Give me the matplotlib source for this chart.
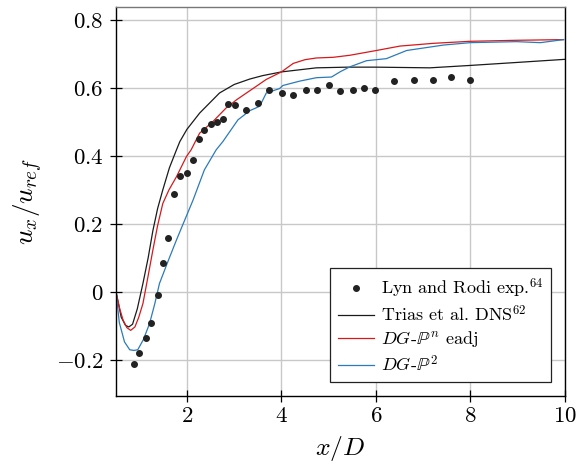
import matplotlib
matplotlib.use("Agg")
import matplotlib.pyplot as plt
from matplotlib.ticker import FuncFormatter

plt.rcParams['mathtext.fontset'] = 'cm'
plt.rcParams['font.family'] = 'serif'
plt.rcParams['font.serif'] = ['cmr10', 'DejaVu Serif']
plt.rcParams['axes.unicode_minus'] = False

# Experimental data (Lyn and Rodi)
exp_x = [0.88, 0.99, 1.13, 1.24, 1.38, 1.50, 1.61, 1.73, 1.86, 2.00, 2.12, 2.25, 2.36,
         2.50, 2.63, 2.76, 2.88, 3.01, 3.25, 3.51, 3.74, 4.01, 4.25, 4.51, 4.76, 5.00,
         5.24, 5.52, 5.75, 5.99, 6.39, 6.81, 7.21, 7.59, 8.00]
exp_y = [-0.211, -0.179, -0.135, -0.092, -0.009, 0.085, 0.159, 0.288, 0.341, 0.350, 0.388,
         0.450, 0.476, 0.494, 0.500, 0.510, 0.553, 0.551, 0.536, 0.556, 0.593, 0.585, 0.580,
         0.593, 0.594, 0.608, 0.592, 0.595, 0.601, 0.595, 0.620, 0.624, 0.624, 0.632, 0.624]

# Trias et al. DNS
dns_x = [0.5, 0.61, 0.70, 0.77, 0.85, 0.95, 1.07, 1.18, 1.28, 1.38, 1.49, 1.63, 1.78, 1.85,
         2.0, 2.27, 2.69, 3.0, 3.33, 3.6, 4.0, 4.74, 5.4, 6.01, 7.14, 7.99, 9.0, 10.0]
dns_y = [0.0, -0.074, -0.098, -0.103, -0.095, -0.05, 0.025, 0.10, 0.18, 0.245, 0.30, 0.365,
         0.418, 0.442, 0.478, 0.526, 0.585, 0.610, 0.626, 0.636, 0.647, 0.659, 0.661, 0.661,
         0.659, 0.666, 0.675, 0.684]

# DG-P^n eadj
eadj_x = [0.5, 0.58, 0.65, 0.73, 0.81, 0.90, 0.98, 1.07, 1.17, 1.28, 1.38, 1.49, 1.62, 1.78,
          1.99, 2.09, 2.27, 2.55, 2.83, 3.05, 3.26, 3.45, 3.68, 4.0, 4.25, 4.5, 4.74, 5.1,
          5.45, 6.01, 6.51, 7.21, 7.99, 8.98, 9.97]
eadj_y = [0.0, -0.05, -0.083, -0.105, -0.113, -0.103, -0.075, -0.034, 0.04, 0.123, 0.195,
          0.26, 0.30, 0.339, 0.398, 0.418, 0.467, 0.501, 0.541, 0.565, 0.585, 0.603, 0.625,
          0.647, 0.672, 0.683, 0.688, 0.690, 0.696, 0.710, 0.723, 0.731, 0.737, 0.740, 0.742]

# DG-P^2
p2_x = [0.5, 0.57, 0.68, 0.79, 0.88, 0.96, 1.08, 1.21, 1.32, 1.42, 1.6, 1.78, 1.95, 2.13,
        2.37, 2.62, 2.76, 3.08, 3.33, 3.54, 3.68, 3.96, 4.03, 4.39, 4.74, 5.06, 5.25, 5.45,
        5.80, 6.22, 6.65, 7.43, 7.99, 8.98, 9.48, 9.97]
p2_y = [0.0, -0.09, -0.147, -0.170, -0.172, -0.170, -0.14, -0.093, -0.035, 0.025, 0.09,
        0.153, 0.21, 0.27, 0.359, 0.418, 0.442, 0.506, 0.533, 0.546, 0.585, 0.598, 0.607,
        0.620, 0.630, 0.632, 0.648, 0.662, 0.680, 0.686, 0.710, 0.726, 0.733, 0.736, 0.733,
        0.742]

fig = plt.figure(figsize=(5.77, 4.73), dpi=100)
ax = fig.add_axes([116 / 577, 1 - 396 / 473, (565 - 116) / 577, (396 - 7.3) / 473])

ax.plot(exp_x, exp_y, 'o', color='#222222', markersize=4, linestyle='none',
        label='Lyn and Rodi exp.$^{64}$', zorder=5)
ax.plot(dns_x, dns_y, color='#1a1a1a', lw=0.9, label='Trias et al. DNS$^{62}$')
ax.plot(eadj_x, eadj_y, color='#d7191c', lw=0.9, label=r'$DG$-$\mathbb{P}^n$ eadj')
ax.plot(p2_x, p2_y, color='#2b7bba', lw=0.9, label=r'$DG$-$\mathbb{P}^2$')

ax.set_xlim(0.5, 10)
ax.set_ylim(-0.306, 0.837)
ax.set_xticks([2, 4, 6, 8, 10])
ax.set_yticks([-0.2, 0, 0.2, 0.4, 0.6, 0.8])

fmt = FuncFormatter(lambda v, p: '$%s$' % ('%g' % v))
ax.xaxis.set_major_formatter(fmt)
ax.yaxis.set_major_formatter(fmt)
ax.tick_params(direction='inout', length=8, width=0.9, labelsize=16.5, colors='black')
ax.tick_params(axis='y', pad=5)
ax.grid(True, color='#c8c8c8', lw=1.0)
ax.set_axisbelow(True)
for s in ax.spines.values():
    s.set_linewidth(1.0)
ax.spines['top'].set_color('#777777')

ax.set_xlabel(r'$x/D$', fontsize=18.5, labelpad=6)
ax.set_ylabel(r'$u_x/u_{ref}$', fontsize=19.5, labelpad=8)

leg = ax.legend(loc='lower right', fontsize=13, fancybox=False, framealpha=1,
                edgecolor='#222222', borderaxespad=0.75, handlelength=2.0,
                handletextpad=0.35, labelspacing=0.25, borderpad=0.45)
leg.get_frame().set_linewidth(0.9)

fig.savefig('out.png', dpi=100)
